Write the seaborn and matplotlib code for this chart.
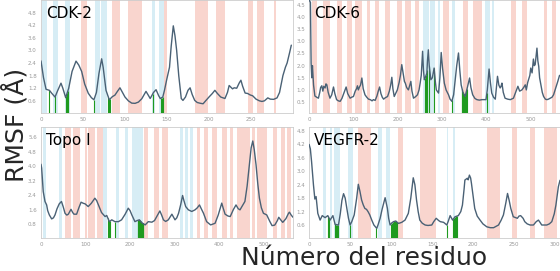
import numpy as np
import seaborn as sns
import matplotlib
matplotlib.use('Agg')
import matplotlib.pyplot as plt

# RMSF curves (residue, value)
cdk2_res = [0, 3, 6, 10, 13, 16.7, 20, 23.8, 26, 29.4, 33, 37, 41.7, 45, 48.4, 52, 56.3, 60, 63, 66,
            69, 72.2, 74, 77.4, 81.3, 85, 88, 91, 94, 97, 100, 104, 108, 112, 116, 120, 125, 128, 130, 134,
            137, 140, 142, 145, 147, 149.6, 153, 155, 157.5, 159.5, 161.5, 164, 167, 169, 172, 175, 177.5, 180, 183, 186,
            190, 193, 196, 200, 204, 207, 210, 214, 219, 222, 224, 226, 228, 230, 233, 236, 238, 240, 243, 246,
            249, 252, 256, 260, 263, 266, 270, 273, 277, 281, 284, 288, 291, 293, 296, 298]
cdk2_rmsf = [2.5, 1.7, 1.15, 1.1, 0.95, 0.78, 1.1, 1.44, 1.2, 0.75, 1.2, 2.0, 2.49, 2.3, 2.0, 1.4, 0.96, 0.75, 0.65, 1.0,
             1.9, 2.6, 2.2, 1.1, 0.65, 0.8, 0.87, 1.05, 1.22, 1.0, 0.78, 0.6, 0.49, 0.48, 0.54, 0.7, 1.05, 0.85, 0.71, 1.0,
             1.13, 0.85, 0.71, 0.78, 1.1, 1.6, 2.2, 3.2, 4.17, 3.7, 3.0, 1.8, 0.71, 0.62, 0.78, 1.1, 1.22, 0.9, 0.62, 0.52,
             0.48, 0.46, 0.6, 0.78, 0.95, 1.1, 0.95, 0.78, 0.71, 1.0, 1.33, 1.25, 1.17, 1.22, 1.2, 1.45, 1.58, 1.3, 0.97, 0.95,
             0.88, 0.84, 0.68, 0.6, 0.57, 0.6, 0.74, 0.68, 0.67, 0.74, 1.0, 1.8, 2.2, 2.4, 2.9, 3.25]

cdk6_res = [0, 3, 4.5, 6, 7.5, 10, 13, 17, 21, 24, 26, 28.6, 31, 33, 36, 38, 40, 43, 47, 51,
            55, 58, 62, 66, 70, 74, 78, 83.5, 87, 92.5, 96, 100, 104, 107, 109, 111, 113.6, 116, 119, 122,
            126, 130, 134, 138, 142, 145, 149, 153, 156, 159, 162, 165, 168, 172, 177, 181, 184, 186.6, 189, 192,
            195, 199, 203, 206, 209, 212, 215, 217, 220, 224, 227, 229.5, 232, 235.5, 240, 244.5, 248, 250.5, 253, 256,
            258, 260, 262, 265.6, 267, 269, 271, 274.6, 278, 282, 285, 287, 292, 295, 298, 301, 305, 309, 314.5, 318,
            322, 326, 329.6, 333, 337, 340, 343, 347, 352, 357, 362, 365, 369, 374, 378.5, 384, 390, 395, 399, 402,
            406, 409, 412, 416, 420, 422, 425, 428, 431, 433, 435, 438, 442, 448, 454, 461, 466, 471, 475, 480,
            484, 487.6, 490, 493, 495, 498, 500, 503, 506, 508, 510, 512, 514, 516, 518, 520, 523, 526, 529, 533,
            536.5, 540, 544, 548, 551.5, 555, 557.5, 561, 565]
cdk6_rmsf = [4.7, 4.6, 2.1, 1.5, 2.0, 1.2, 0.75, 0.7, 0.66, 0.9, 1.1, 1.17, 0.95, 1.15, 1.08, 1.25, 1.21, 0.9, 0.66, 0.8,
             1.12, 0.85, 0.6, 0.55, 0.53, 0.65, 0.85, 1.12, 0.85, 0.66, 0.7, 0.73, 0.95, 1.05, 1.17, 1.0, 1.12, 1.2, 1.49, 1.05,
             0.8, 0.7, 0.62, 0.6, 0.55, 0.6, 0.57, 0.75, 0.95, 1.12, 0.85, 0.7, 0.62, 0.68, 0.73, 0.95, 1.2, 1.52, 1.05, 0.73,
             0.85, 1.0, 1.3, 1.6, 2.04, 1.7, 1.35, 1.28, 1.1, 1.0, 1.2, 1.35, 0.95, 0.66, 0.72, 0.8, 1.0, 1.28, 1.6, 2.59,
             1.8, 1.42, 1.5, 1.69, 2.2, 2.65, 2.0, 1.42, 1.5, 1.9, 1.3, 1.0, 0.87, 1.5, 2.54, 1.9, 1.28, 1.0, 0.8, 0.62,
             0.53, 0.8, 1.42, 2.0, 2.52, 1.8, 1.21, 0.9, 0.73, 1.1, 1.49, 1.1, 0.8, 0.65, 0.6, 0.58, 0.6, 0.6, 0.6, 1.0,
             1.86, 1.3, 0.87, 0.7, 0.62, 1.0, 1.56, 1.2, 1.08, 1.15, 1.28, 0.9, 0.66, 0.62, 0.6, 0.66, 0.9, 1.15, 0.95, 1.0,
             1.1, 1.21, 1.0, 1.3, 1.42, 1.6, 1.9, 1.7, 2.27, 2.0, 2.04, 2.4, 2.72, 2.2, 1.97, 1.5, 1.21, 0.9, 0.73, 0.62,
             0.6, 0.62, 0.66, 0.7, 0.8, 1.0, 1.15, 1.35, 1.6]

topo_res = [0, 1.5, 5, 9, 12.7, 15, 18.7, 24, 28, 31.5, 36, 41, 46, 50, 54, 58, 61.4, 67.4, 71, 74,
            80, 85, 90, 95, 99, 106, 113, 121, 125, 129, 136, 144, 147.6, 153.6, 159, 166, 174, 181, 189, 196,
            200, 204, 211, 216, 221, 226, 234, 241, 249, 255, 260, 267, 271, 275, 280, 286, 294, 301, 305, 309,
            314, 318, 321, 325, 331, 338.6, 346, 351, 356, 360, 365, 372, 381, 391, 398, 406, 409, 413.5, 420, 425,
            432, 438, 443, 447, 452, 458, 463, 468, 472, 475.7, 479, 483, 487, 490.6, 495, 499.6, 507, 514, 519, 525,
            531, 534, 538, 543, 550, 556, 558, 562, 566]
topo_rmsf = [4.1, 3.89, 2.6, 2.05, 1.86, 1.55, 1.31, 1.09, 1.15, 1.31, 1.65, 1.92, 2.05, 1.75, 1.4, 1.3, 1.35, 1.62, 1.45, 1.35,
             1.35, 1.7, 2.01, 1.95, 1.92, 1.77, 1.95, 2.23, 2.1, 1.86, 1.44, 1.22, 1.28, 0.94, 1.04, 0.94, 0.94, 1.04, 1.35, 1.68,
             1.55, 1.31, 0.94, 1.0, 1.04, 0.89, 0.76, 0.94, 0.91, 1.0, 1.22, 1.53, 1.3, 1.04, 0.95, 1.04, 1.35, 1.04, 1.15, 1.4,
             1.9, 2.38, 2.1, 1.77, 1.59, 1.5, 1.59, 1.7, 1.86, 1.65, 1.4, 0.94, 0.76, 0.85, 1.3, 1.96, 1.7, 1.35, 1.25, 1.22,
             1.6, 1.86, 1.65, 1.59, 1.8, 2.05, 2.9, 4.07, 5.0, 5.38, 4.9, 4.07, 3.0, 2.23, 1.7, 1.4, 1.31, 0.95, 0.72, 0.75,
             1.0, 1.18, 1.05, 0.9, 1.1, 1.4, 1.46, 1.3, 1.18]

vegfr_res = [0, 1.5, 3, 5.3, 7, 8.5, 10.6, 13.4, 16, 19.5, 22.8, 25.6, 29, 31.7, 35.8, 38, 40, 42, 44, 46,
             48, 50, 52, 55, 58, 60, 62, 64, 66, 68, 70, 72, 74, 76.4, 79, 82.5, 84, 86.6, 89, 92.7,
             95.5, 97, 98.8, 101, 103, 105.7, 109, 113, 117, 121, 124, 127, 129, 131, 133, 135, 138, 141.5, 145, 149.6,
             152, 155, 158, 160, 164, 168, 170, 172, 175, 178, 182, 185, 187, 189, 190, 193, 194, 195.5, 197, 198,
             200, 202, 205, 208.5, 212, 216.7, 221, 225, 231, 234, 237, 240, 242, 244, 246, 249, 254, 256, 258, 261,
             263, 266, 269.5, 273.6, 277, 279.7, 282, 283.7, 289.8, 293, 296, 299, 301, 304, 306]
vegfr_rmsf = [4.2, 4.0, 3.43, 2.39, 1.76, 1.87, 1.12, 0.82, 1.02, 0.93, 1.02, 0.82, 1.02, 0.63, 0.6, 1.1, 1.7, 2.0, 1.8, 1.34,
              0.9, 0.6, 0.75, 1.05, 1.8, 2.42, 2.1, 1.72, 1.5, 1.34, 1.3, 1.19, 1.05, 0.82, 0.6, 0.45, 0.6, 0.9, 1.3, 1.82,
              1.34, 0.9, 0.6, 0.7, 0.75, 0.78, 0.67, 0.72, 0.82, 1.12, 1.8, 2.71, 2.4, 1.72, 1.2, 0.82, 0.68, 0.6, 0.58, 0.6,
              0.75, 0.9, 0.8, 0.75, 0.72, 0.6, 0.8, 1.02, 0.82, 0.97, 1.02, 1.2, 1.49, 2.2, 2.61, 2.69, 2.62, 2.83, 2.7, 2.46,
              1.9, 1.34, 1.0, 0.82, 0.65, 0.52, 0.48, 0.48, 0.6, 0.8, 1.05, 1.6, 2.01, 1.7, 1.34, 0.97, 0.9, 1.0, 1.02, 0.9,
              0.75, 0.65, 0.6, 0.6, 0.75, 0.82, 0.7, 0.6, 0.6, 0.65, 0.75, 1.1, 1.49, 2.31, 2.6]

# binding-site residues (green lines)
cdk2_sites = [10, 17, 30, 31, 32, 63, 80, 81, 82, 133, 143, 144, 145]
cdk6_sites = [262, 264, 266, 271, 282, 323, 345, 346, 347, 348, 349, 350, 351, 352, 353, 354, 355, 356, 401]
topo_sites = [150, 153, 156, 167, 218, 219, 220, 221, 222, 223, 224, 225, 226, 227, 228, 229]
vegfr_sites = [23, 24, 32, 33, 34, 35, 50, 82, 100, 101, 102, 103, 104, 105, 106, 107, 168, 176, 177, 178, 179, 180]

# secondary structure ranges: helix (red) and strand (blue)
cdk2_helix = [(48, 55), (84, 94), (104, 120), (145, 150), (183, 199), (208, 219), (247, 252), (257, 266), (277, 280)]
cdk2_sheet = [(1, 7.5), (14.7, 20.6), (28.6, 34.5), (64, 70), (72, 78), (132, 136), (140, 146)]
cdk6_helix = [(7.5, 17), (32, 47), (62, 74), (85, 96), (104, 119), (130, 138), (149, 158), (171, 183), (198, 209),
              (217, 230), (239, 247), (303, 316), (348, 359), (369, 390), (456, 467), (480, 491), (529, 537), (548, 556)]
cdk6_sheet = [(258, 270), (273, 284), (290, 296), (322, 330), (397, 409), (412, 418)]
topo_helix = [(54, 67), (73, 88), (99, 103), (106, 122), (125, 140), (231, 241), (254, 266), (271, 285), (350, 357),
              (365, 376), (383, 395), (406, 417), (425, 432), (440, 470), (473, 481), (485, 507), (521, 529),
              (540, 548), (553, 562)]
topo_sheet = [(5, 12), (40, 48), (140, 149), (168, 176), (189, 196), (204, 215), (216, 230), (312, 318),
              (324, 331), (335, 342)]
vegfr_helix = [(60, 76), (109, 114), (135, 155), (217, 233), (247, 253), (269, 276), (286, 302)]
vegfr_sheet = [(17.5, 20), (25, 28), (30, 38), (48, 53), (84.5, 88.6), (94, 99), (168, 170), (175, 178)]

cdk2_yticks = [0.6, 1.2, 1.8, 2.4, 3.0, 3.6, 4.2, 4.8]
cdk6_yticks = [0.5, 1.0, 1.5, 2.0, 2.5, 3.0, 3.5, 4.0, 4.5]
topo_yticks = [0.8, 1.6, 2.4, 3.2, 4.0, 4.8, 5.6]
vegfr_yticks = [0.6, 1.2, 1.8, 2.4, 3.0, 3.6, 4.2, 4.8]

sns.set_style('white')
plt.rcParams['font.family'] = ['DejaVu Sans']

fig = plt.figure(figsize=(5.6, 2.71), dpi=100)

panels = [
    ('CDK-2', [0.0732, 0.583, 0.45, 0.417], cdk2_res, cdk2_rmsf, cdk2_sites, cdk2_helix, cdk2_sheet,
     (0, 300), (0.02, 5.4), [0, 50, 100, 150, 200, 250], cdk2_yticks),
    ('CDK-6', [0.552, 0.583, 0.448, 0.417], cdk6_res, cdk6_rmsf, cdk6_sites, cdk6_helix, cdk6_sheet,
     (0, 566), (0.05, 4.7), [0, 100, 200, 300, 400, 500], cdk6_yticks),
    ('Topo I', [0.0732, 0.1218, 0.45, 0.4096], topo_res, topo_rmsf, topo_sites, topo_helix, topo_sheet,
     (0, 566), (0.04, 6.15), [0, 100, 200, 300, 400, 500], topo_yticks),
    ('VEGFR-2', [0.552, 0.1218, 0.448, 0.4096], vegfr_res, vegfr_rmsf, vegfr_sites, vegfr_helix, vegfr_sheet,
     (0, 306), (0.02, 4.98), [0, 50, 100, 150, 200, 250, 300], vegfr_yticks),
]

for name, rect, res, rmsf, sites, helix, sheet, xlim, ylim, xt, yt in panels:
    ax = fig.add_axes(rect)
    for a, b in helix:
        ax.axvspan(a, b, color='#f9d5ce', lw=0, zorder=0)
    for a, b in sheet:
        ax.axvspan(a, b, color='#d7edf5', lw=0, zorder=0)
    heights = np.interp(sites, res, rmsf)
    ax.vlines(sites, 0, heights, color='#1f9a1f', lw=0.8, zorder=2)
    sns.lineplot(x=res, y=rmsf, ax=ax, color='#4a6175', lw=1.0, zorder=3)
    ax.set_xlim(*xlim)
    ax.set_ylim(*ylim)
    ax.set_xticks(xt)
    ax.set_yticks(yt)
    ax.set_xlabel('')
    ax.set_ylabel('')
    ax.tick_params(labelsize=4, colors='#999999', length=1.5, width=0.5, pad=1.5)
    for s in ax.spines.values():
        s.set_color('#cccccc')
        s.set_linewidth(0.6)
    ax.text(0.02, 0.95, name, transform=ax.transAxes, fontsize=11, va='top', ha='left', color='black')

fig.text(0.027, 0.54, 'RMSF (Å)', rotation=90, fontsize=18, va='center', ha='center')
fig.text(0.65, 0.004, 'Número del residuo', fontsize=18, va='bottom', ha='center')

fig.savefig('out.png', dpi=100)
